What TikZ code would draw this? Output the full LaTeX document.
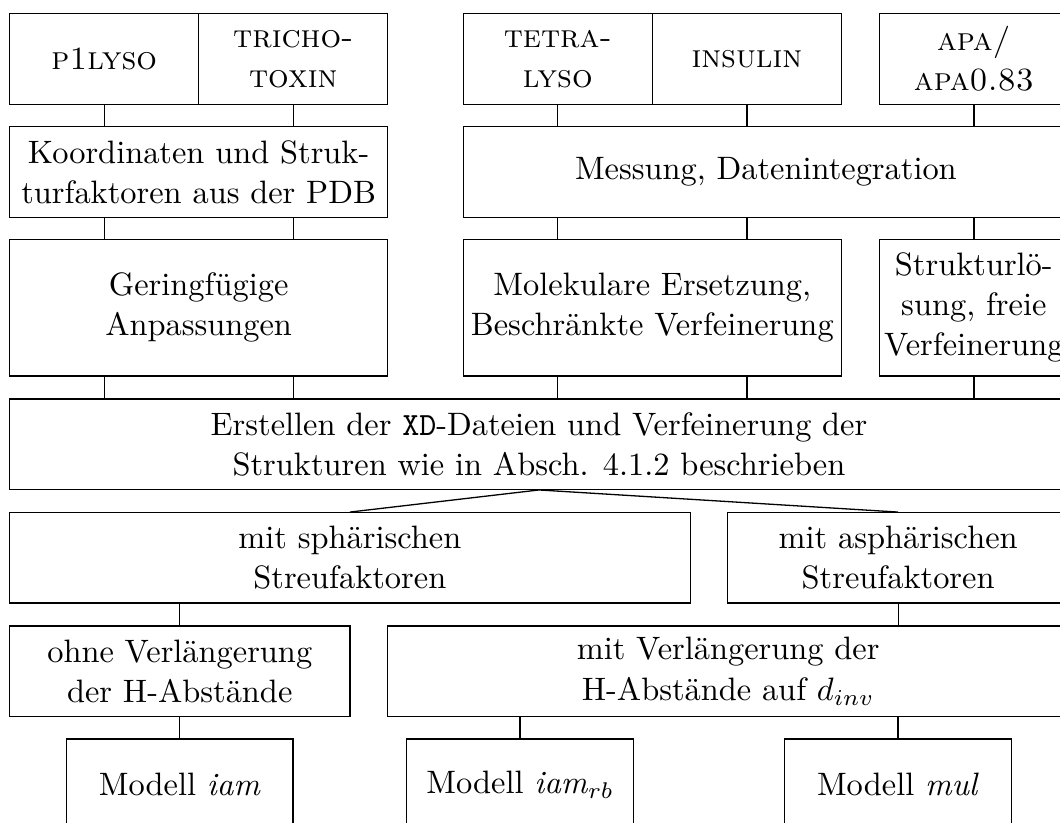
\documentclass[tikz,border=0pt]{standalone}
\newcommand{\placebox}[6]{%
  \pgfmathsetmacro\pbcx{(#2+#4)/2}%
  \pgfmathsetmacro\pbcy{(#3+#5)/2}%
  \pgfmathsetmacro\pbw{(#4-#2)*0.3086}%
  \pgfmathsetmacro\pbh{(#5-#3)*0.3086}%
  \node[box, minimum width=\pbw pt, minimum height=\pbh pt] (#1) at (\pbcx,\pbcy) {#6};}
\begin{document}
\begin{tikzpicture}[x=0.3086pt,y=-0.3086pt,
  box/.style={draw, line width=0.4pt, inner sep=0pt, align=center, font=\fontsize{10}{12.4}\selectfont},
  link/.style={draw, line width=0.4pt}]
\useasboundingbox (0,0) rectangle (1060,822);
\clip (0,0) rectangle (1060,822);
% row 1
\placebox{p1}{9.5}{13.3}{198.8}{104.3}{\textsc{p1lyso}}
\placebox{tri}{198.8}{13.3}{387.8}{104.3}{\textsc{tricho-}\\\textsc{toxin}}
\placebox{tet}{463.2}{13.3}{652.4}{104.3}{\textsc{tetra-}\\\textsc{lyso}}
\placebox{ins}{652.4}{13.3}{841.4}{104.3}{\textsc{insulin}}
\placebox{apa}{879.2}{13.3}{1068.5}{104.3}{\textsc{apa/}\\\textsc{apa0.83}}
% row 2
\placebox{koord}{9.5}{126.7}{387.8}{217.7}{Koordinaten und Struk-\\turfaktoren aus der PDB}
\placebox{mess}{463.2}{126.7}{1068.5}{217.7}{Messung, Datenintegration}
% row 3
\placebox{ger}{9.5}{239.3}{387.8}{376}{Geringfügige\\Anpassungen}
\placebox{molek}{463.2}{239.3}{841.4}{376}{Molekulare Ersetzung,\\Beschränkte Verfeinerung}
\placebox{strukt}{879.2}{239.3}{1068.5}{376}{Strukturlö-\\sung, freie\\Verfeinerung}
% row 4
\placebox{erst}{9.5}{399}{1068.5}{489.3}{Erstellen der \texttt{XD}-Dateien und Verfeinerung der\\Strukturen wie in Absch. 4.1.2 beschrieben}
% row 5
\placebox{sph}{9.5}{512.7}{690.2}{603}{mit sphärischen\\Streufaktoren}
\placebox{asph}{727.8}{512.7}{1068.5}{603}{mit asphärischen\\Streufaktoren}
% row 6
\placebox{ohne}{9.5}{626}{350}{716.5}{ohne Verlängerung\\der H-Abstände}
\placebox{mitv}{387.8}{626}{1068.5}{716.5}{mit Verlängerung der\\H-Abstände auf $d_{inv}$}
% row 7
\placebox{iam}{66.3}{739}{293.1}{830}{Modell \textit{iam}}
\placebox{iamrb}{406.7}{739}{633.5}{830}{Modell \textit{iam}$_{rb}$}
\placebox{mul}{784.2}{739}{1011.7}{830}{Modell \textit{mul}}
% connectors row1 -> row2
\path[link] (p1.south) -- (p1.south |- koord.north);
\path[link] (tri.south) -- (tri.south |- koord.north);
\path[link] (tet.south) -- (tet.south |- mess.north);
\path[link] (ins.south) -- (ins.south |- mess.north);
\path[link] (apa.south) -- (apa.south |- mess.north);
% row2 -> row3
\path[link] (p1.south |- koord.south) -- (p1.south |- ger.north);
\path[link] (tri.south |- koord.south) -- (tri.south |- ger.north);
\path[link] (tet.south |- mess.south) -- (tet.south |- molek.north);
\path[link] (ins.south |- mess.south) -- (ins.south |- molek.north);
\path[link] (apa.south |- mess.south) -- (apa.south |- strukt.north);
% row3 -> row4
\path[link] (p1.south |- ger.south) -- (p1.south |- erst.north);
\path[link] (tri.south |- ger.south) -- (tri.south |- erst.north);
\path[link] (tet.south |- molek.south) -- (tet.south |- erst.north);
\path[link] (ins.south |- molek.south) -- (ins.south |- erst.north);
\path[link] (apa.south |- strukt.south) -- (apa.south |- erst.north);
% row4 -> row5
\path[link] (erst.south) -- (sph.north);
\path[link] (erst.south) -- (asph.north);
% row5 -> row6
\path[link] (ohne.north |- sph.south) -- (ohne.north);
\path[link] (asph.south) -- (asph.south |- mitv.north);
% row6 -> row7
\path[link] (iam.north |- ohne.south) -- (iam.north);
\path[link] (iamrb.north |- mitv.south) -- (iamrb.north);
\path[link] (mul.north |- mitv.south) -- (mul.north);
\end{tikzpicture}
\end{document}
